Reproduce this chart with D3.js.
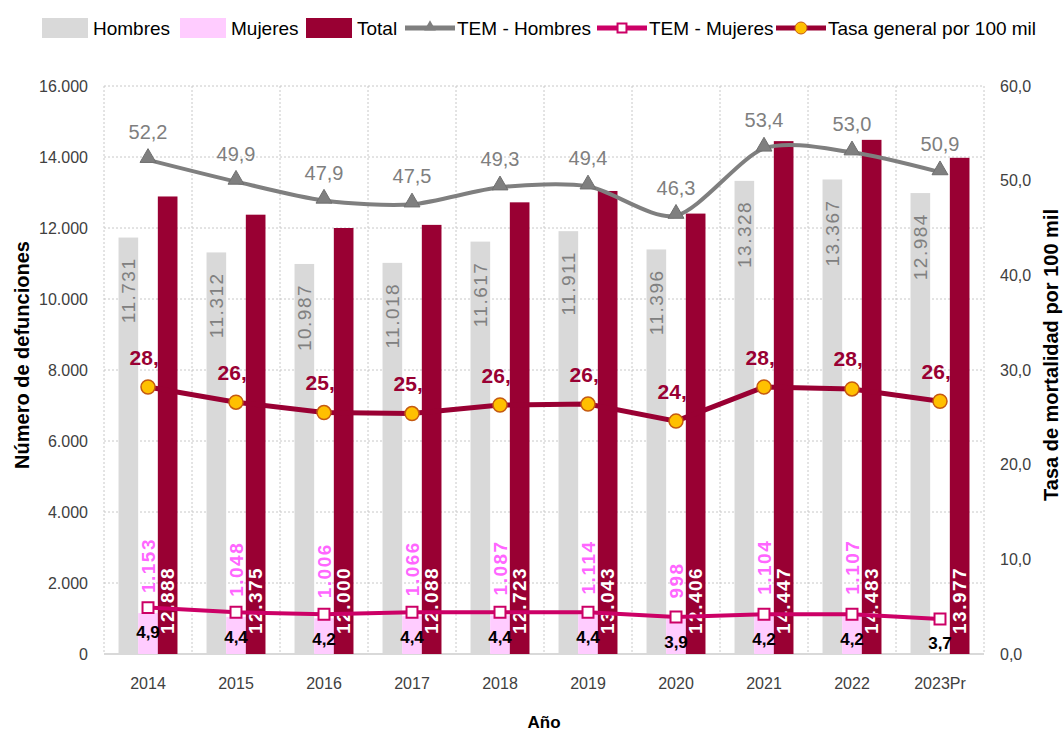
<!DOCTYPE html>
<html>
<head>
<meta charset="utf-8">
<script src="https://cdn.jsdelivr.net/npm/d3@7"></script>
<style>
  body { margin: 0; background: #fff; }
  svg { display: block; }
  text { font-family: "Liberation Sans", Arial, sans-serif; }
</style>
</head>
<body>
<svg width="1063" height="731"></svg>
<script>
// data
var years = ["2014", "2015", "2016", "2017", "2018", "2019", "2020", "2021", "2022", "2023Pr"];
var hombres = [11731, 11312, 10987, 11018, 11617, 11911, 11396, 13328, 13367, 12984];
var mujeres = [1153, 1048, 1006, 1066, 1087, 1114, 998, 1104, 1107, null];
var total = [12888, 12375, 12000, 12088, 12723, 13043, 12406, 14447, 14483, 13977];
var temHombres = [52.2, 49.9, 47.9, 47.5, 49.3, 49.4, 46.3, 53.4, 53.0, 50.9];
var temMujeres = [4.9, 4.4, 4.2, 4.4, 4.4, 4.4, 3.9, 4.2, 4.2, 3.7];
var tasaGeneral = [28.2, 26.6, 25.5, 25.4, 26.3, 26.4, 24.6, 28.2, 28.0, 26.7];
var leftTicks = [0, 2000, 4000, 6000, 8000, 10000, 12000, 14000, 16000];
var rightTicks = [0, 10, 20, 30, 40, 50, 60];
var barSeries = ["Hombres", "Mujeres", "Total"];

(function(d3) {
    "use strict";

var svg = d3.select("svg"),
    margin = {top: 86, right: 79, bottom: 77, left: 104},
    width = +svg.attr("width") - margin.left - margin.right,
    height = +svg.attr("height") - margin.top - margin.bottom,
    g = svg.append("g").attr("transform", "translate(" + margin.left + "," + margin.top + ")");

var locale = d3.formatLocale({decimal: ",", thousands: ".", grouping: [3], currency: ["", ""]}),
    fmtInt = locale.format(",d"),
    fmtDec = locale.format(",.1f");

var cGray = "#d9d9d9", cPink = "#ffccff", cRed = "#990033",
    cLineGray = "#7f7f7f", cMag = "#cc0066", cGold = "#ffc000";

var x0 = d3.scaleBand().domain(years).range([0, width]),
    x1 = d3.scaleBand().domain(barSeries)
        .range([x0.bandwidth() * 0.165, x0.bandwidth() * 0.835]),
    yL = d3.scaleLinear().domain([0, 16000]).range([height, 0]),
    yR = d3.scaleLinear().domain([0, 60]).range([height, 0]),
    cx = function(i) { return x0(years[i]) + x0.bandwidth() / 2; };

var rows = years.map(function(y, i) {
    return {year: y, i: i, Hombres: hombres[i], Mujeres: mujeres[i], Total: total[i]};
});

// grid
g.append("g").selectAll("line").data(leftTicks.slice(1)).join("line")
    .attr("x1", 0).attr("x2", width)
    .attr("y1", function(d) { return yL(d); }).attr("y2", function(d) { return yL(d); })
    .attr("stroke", "#c8c8c8").attr("stroke-dasharray", "2,2");
g.append("g").selectAll("line").data(d3.range(years.length + 1)).join("line")
    .attr("x1", function(d) { return d * x0.step(); }).attr("x2", function(d) { return d * x0.step(); })
    .attr("y1", 0).attr("y2", height)
    .attr("stroke", "#c8c8c8").attr("stroke-dasharray", "2,2");
g.append("line")
    .attr("x1", 0).attr("x2", width).attr("y1", height).attr("y2", height)
    .attr("stroke", "#d9d9d9").attr("stroke-width", 2);

// axes
var axL = g.append("g")
    .call(d3.axisLeft(yL).tickValues(leftTicks).tickFormat(fmtInt).tickSize(0).tickPadding(16));
var axR = g.append("g").attr("transform", "translate(" + width + ",0)")
    .call(d3.axisRight(yR).tickValues(rightTicks).tickFormat(fmtDec).tickSize(0).tickPadding(16));
var axB = g.append("g").attr("transform", "translate(0," + height + ")")
    .call(d3.axisBottom(x0).tickSize(0).tickPadding(24));
[axL, axR, axB].forEach(function(a) {
    a.select(".domain").remove();
    a.selectAll("text").attr("font-size", 16).attr("fill", "#404040")
        .attr("font-family", "Liberation Sans, Arial, sans-serif");
});

// axis titles
svg.append("text")
    .attr("transform", "translate(22,355) rotate(-90)")
    .attr("text-anchor", "middle").attr("dominant-baseline", "central")
    .attr("font-size", 20).attr("font-weight", "bold").attr("fill", "#000")
    .text("Número de defunciones");
svg.append("text")
    .attr("transform", "translate(1051,355) rotate(-90)")
    .attr("text-anchor", "middle").attr("dominant-baseline", "central")
    .attr("font-size", 20).attr("font-weight", "bold").attr("fill", "#000")
    .text("Tasa de mortalidad por 100 mil");
svg.append("text")
    .attr("x", margin.left + width / 2).attr("y", 722)
    .attr("text-anchor", "middle").attr("dominant-baseline", "central")
    .attr("font-size", 17).attr("font-weight", "bold").attr("fill", "#000")
    .text("Año");

// gray and pink bars
g.append("g").selectAll("rect").data(rows).join("rect")
    .attr("x", function(d) { return x0(d.year) + x1("Hombres"); })
    .attr("width", x1.bandwidth())
    .attr("y", function(d) { return yL(d.Hombres); })
    .attr("height", function(d) { return height - yL(d.Hombres); })
    .attr("fill", cGray);
g.append("g").selectAll("rect").data(rows.filter(function(d) { return d.Mujeres != null; })).join("rect")
    .attr("x", function(d) { return x0(d.year) + x1("Mujeres"); })
    .attr("width", x1.bandwidth())
    .attr("y", function(d) { return yL(d.Mujeres); })
    .attr("height", function(d) { return height - yL(d.Mujeres); })
    .attr("fill", cPink);

// tasa labels (partly covered by total bars)
g.append("g").selectAll("text").data(tasaGeneral).join("text")
    .attr("x", function(d, i) { return cx(i) + 2; })
    .attr("y", function(d) { return yR(d) - 30; })
    .attr("text-anchor", "middle").attr("dominant-baseline", "central")
    .attr("font-size", 21).attr("font-weight", "bold").attr("fill", cRed)
    .text(function(d) { return fmtDec(d); });

// total bars
g.append("g").selectAll("rect").data(rows).join("rect")
    .attr("x", function(d) { return x0(d.year) + x1("Total"); })
    .attr("width", x1.bandwidth())
    .attr("y", function(d) { return yL(d.Total); })
    .attr("height", function(d) { return height - yL(d.Total); })
    .attr("fill", cRed);

// bar labels
function vlabel(sel) {
    return sel.attr("dominant-baseline", "central")
        .attr("font-size", 19).attr("letter-spacing", 1.5);
}
vlabel(g.append("g").selectAll("text").data(rows).join("text"))
    .attr("transform", function(d) {
        return "translate(" + (x0(d.year) + x1("Hombres") + x1.bandwidth() / 2) + "," + (yL(d.Hombres) + 20) + ") rotate(-90)";
    })
    .attr("text-anchor", "end").attr("fill", "#808080")
    .text(function(d) { return fmtInt(d.Hombres); });
vlabel(g.append("g").selectAll("text").data(rows.filter(function(d) { return d.Mujeres != null; })).join("text"))
    .attr("transform", function(d) {
        return "translate(" + (x0(d.year) + x1("Mujeres") + x1.bandwidth() / 2) + "," + (yL(d.Mujeres) - 20) + ") rotate(-90)";
    })
    .attr("text-anchor", "start").attr("fill", "#ff66ff").attr("font-weight", "bold")
    .text(function(d) { return fmtInt(d.Mujeres); });
vlabel(g.append("g").selectAll("text").data(rows).join("text"))
    .attr("transform", function(d) {
        return "translate(" + (x0(d.year) + x1("Total") + x1.bandwidth() / 2) + "," + (height - 20) + ") rotate(-90)";
    })
    .attr("text-anchor", "start").attr("fill", "#fff").attr("font-weight", "bold")
    .text(function(d) { return fmtInt(d.Total); });

// lines
var tri = d3.symbol().type(d3.symbolTriangle).size(110),
    sq = d3.symbol().type(d3.symbolSquare).size(120);

function lineOf(yScale, curve) {
    return d3.line().x(function(d, i) { return cx(i); }).y(function(d) { return yScale(d); }).curve(curve);
}

g.append("path").datum(temHombres)
    .attr("fill", "none").attr("stroke", cLineGray).attr("stroke-width", 4)
    .attr("d", lineOf(yR, d3.curveCardinal.tension(0.2)));
g.append("g").selectAll("path").data(temHombres).join("path")
    .attr("transform", function(d, i) { return "translate(" + cx(i) + "," + (yR(d) - 2) + ")"; })
    .attr("d", tri).attr("fill", cLineGray).attr("stroke", "#6f6f6f");

g.append("path").datum(temMujeres)
    .attr("fill", "none").attr("stroke", cMag).attr("stroke-width", 4)
    .attr("d", lineOf(yR, d3.curveLinear));
g.append("g").selectAll("path").data(temMujeres).join("path")
    .attr("transform", function(d, i) { return "translate(" + cx(i) + "," + yR(d) + ")"; })
    .attr("d", sq).attr("fill", "#fff").attr("stroke", cMag).attr("stroke-width", 2);

g.append("path").datum(tasaGeneral)
    .attr("fill", "none").attr("stroke", cRed).attr("stroke-width", 5)
    .attr("d", lineOf(yR, d3.curveLinear));
g.append("g").selectAll("circle").data(tasaGeneral).join("circle")
    .attr("cx", function(d, i) { return cx(i); })
    .attr("cy", function(d) { return yR(d); })
    .attr("r", 7).attr("fill", cGold).attr("stroke", "#c55a11").attr("stroke-width", 1.5);

// line labels
g.append("g").selectAll("text").data(temHombres).join("text")
    .attr("x", function(d, i) { return cx(i); })
    .attr("y", function(d) { return yR(d) - 28; })
    .attr("text-anchor", "middle").attr("dominant-baseline", "central")
    .attr("font-size", 20).attr("fill", "#7f7f7f")
    .text(function(d) { return fmtDec(d); });
g.append("g").selectAll("text").data(temMujeres).join("text")
    .attr("x", function(d, i) { return cx(i); })
    .attr("y", function(d) { return yR(d) + 25; })
    .attr("text-anchor", "middle").attr("dominant-baseline", "central")
    .attr("font-size", 17).attr("font-weight", "bold").attr("fill", "#000")
    .text(function(d) { return fmtDec(d); });

// legend
var legend = svg.append("g").attr("transform", "translate(0,28)");
var items = [
    {name: "Hombres", kind: "bar", color: cGray, x: 42},
    {name: "Mujeres", kind: "bar", color: cPink, x: 180},
    {name: "Total", kind: "bar", color: cRed, x: 306},
    {name: "TEM - Hombres", kind: "tri", color: cLineGray, x: 405},
    {name: "TEM - Mujeres", kind: "sq", color: cMag, x: 597},
    {name: "Tasa general por 100 mil", kind: "dot", color: cRed, x: 776}
];
items.forEach(function(it) {
    var li = legend.append("g").attr("transform", "translate(" + it.x + ",0)");
    if (it.kind === "bar") {
        li.append("rect").attr("x", 0).attr("y", -10).attr("width", 46).attr("height", 20).attr("fill", it.color);
        li.append("text").attr("x", 51).attr("y", 0);
    } else {
        li.append("line").attr("x1", 0).attr("x2", 50).attr("stroke", it.color).attr("stroke-width", 5);
        if (it.kind === "tri") {
            li.append("path").attr("transform", "translate(25,-1)").attr("d", d3.symbol().type(d3.symbolTriangle).size(60)).attr("fill", it.color);
        } else if (it.kind === "sq") {
            li.append("path").attr("transform", "translate(25,0)").attr("d", d3.symbol().type(d3.symbolSquare).size(80))
                .attr("fill", "#fff").attr("stroke", it.color).attr("stroke-width", 2);
        } else {
            li.append("circle").attr("cx", 25).attr("r", 6).attr("fill", cGold).attr("stroke", "#c55a11");
        }
        li.append("text").attr("x", 52).attr("y", 0);
    }
    li.select("text").attr("dominant-baseline", "central")
        .attr("font-size", 19).attr("fill", "#000").text(it.name);
});

}(d3));
</script>
</body>
</html>
